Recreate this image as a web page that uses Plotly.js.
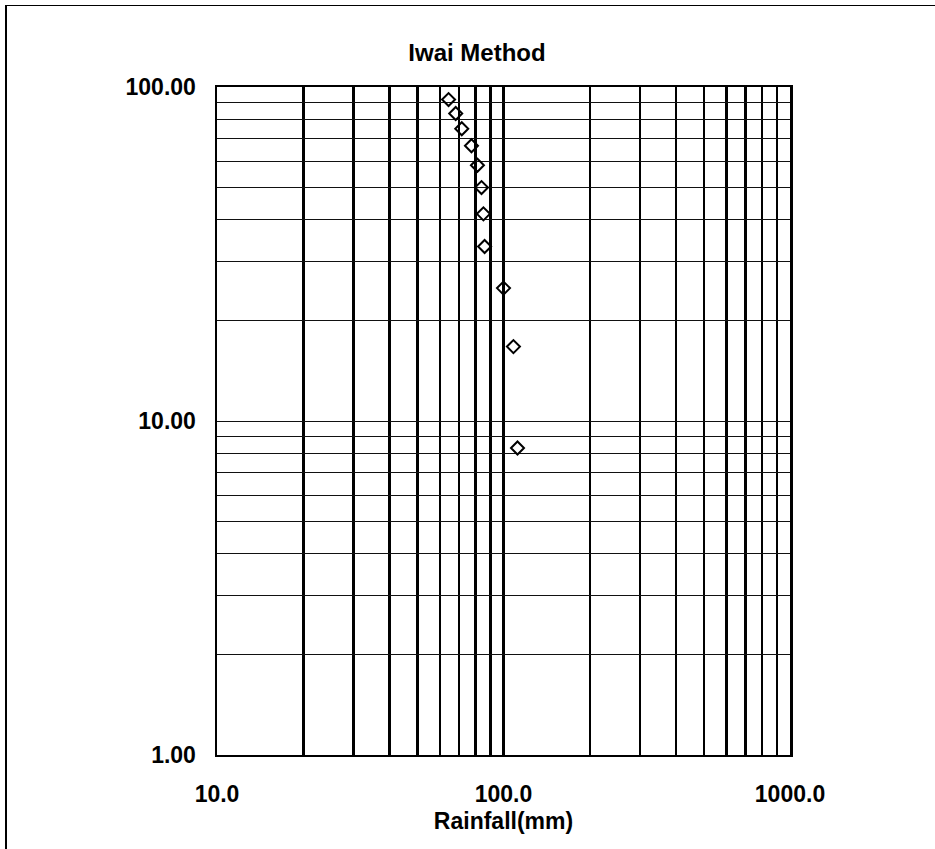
<!DOCTYPE html>
<html>
<head>
<meta charset="utf-8">
<script src="https://cdn.plot.ly/plotly-3.0.1.min.js"></script>
<style>
  html, body { margin: 0; padding: 0; background: #fff; }
  #frame { position: absolute; left: 5px; top: 5px; width: 930px; height: 844px;
           border-left: 2px solid #000; border-top: 1px solid #000; }
  #chart { position: absolute; left: 0; top: 0; width: 935px; height: 849px; }
</style>
</head>
<body>
<div id="frame"></div>
<div id="chart"></div>
<script>
// Data
const rainfall = [64.3, 68.1, 71.5, 77.3, 81.1, 83.8, 85.1, 85.9, 100.0, 108.3, 111.9];
const probability = [91.7, 83.3, 75.0, 66.7, 58.3, 50.0, 41.7, 33.3, 25.0, 16.7, 8.3];

// Grid / tick positions and labels
const xGridVals = [10,20,30,40,50,60,70,80,90,100,200,300,400,500,600,700,800,900,1000];
const xGridText = ['10.0','','','','','','','','','100.0','','','','','','','','','1000.0'];
const yGridVals = [1,2,3,4,5,6,7,8,9,10,20,30,40,50,60,70,80,90,100];
const yGridText = ['1.00','','','','','','','','','10.00','','','','','','','','','100.00'];

const titleText = 'Iwai Method';
const xTitle = 'Rainfall(mm)';

const fam = 'Liberation Sans, Arial, sans-serif';
const tickFont = { family: fam, size: 23, color: '#000', weight: 'bold' };
const titleFont = { family: fam, size: 24, color: '#000', weight: 'bold' };

const trace = {
  x: rainfall,
  y: probability,
  mode: 'markers',
  type: 'scatter',
  marker: { symbol: 'diamond-open', size: 10, color: '#000', line: { width: 2, color: '#000' } },
  cliponaxis: false,
  showlegend: false
};

const layout = {
  width: 935, height: 849,
  margin: { l: 217, r: 145, t: 87, b: 94 },
  paper_bgcolor: 'rgba(0,0,0,0)',
  plot_bgcolor: '#fff',
  font: tickFont,
  title: { text: titleText, font: titleFont, x: 477 / 935, xanchor: 'center', y: 1 - 53 / 849, yanchor: 'middle' },
  xaxis: {
    type: 'log', range: [1, 3],
    tickmode: 'array', tickvals: xGridVals, ticktext: xGridText,
    tickfont: tickFont,
    showgrid: true, gridcolor: '#000', gridwidth: 2.5,
    showline: true, linecolor: '#000', linewidth: 2, mirror: true,
    ticks: '', ticklabelstandoff: 17,
    zeroline: false,
    title: { text: xTitle, font: tickFont, standoff: 7 }
  },
  yaxis: {
    type: 'log', range: [0, 2],
    tickmode: 'array', tickvals: yGridVals, ticktext: yGridText,
    tickfont: tickFont,
    showgrid: true, gridcolor: '#111', gridwidth: 1,
    showline: true, linecolor: '#000', linewidth: 2.5, mirror: true,
    ticks: '', ticklabelstandoff: 14,
    zeroline: false
  }
};

Plotly.newPlot('chart', [trace], layout, { staticPlot: true, displayModeBar: false });
</script>
</body>
</html>
